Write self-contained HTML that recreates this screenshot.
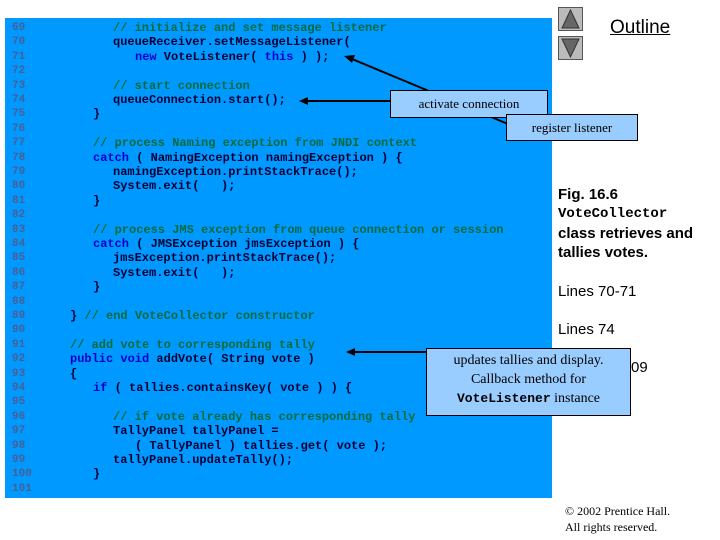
<!DOCTYPE html>
<html><head><meta charset="utf-8"><style>
body{margin:0;width:720px;height:540px;background:#fff;position:relative;overflow:hidden;font-family:"Liberation Sans",sans-serif}
.panel{position:absolute;left:5px;top:18px;width:547px;height:480px;background:#0099ff}
.l{position:absolute;font:bold 12px/14px "Liberation Mono",monospace;color:#000033;white-space:pre}
.n{position:absolute;left:12px;font:bold 11px/14px "Liberation Mono",monospace;color:#4a5f94}
.c{color:#006b3c}.k{color:#0000cc}
.box{position:absolute;background:#99ccff;border:1px solid #000;font:13px "Liberation Serif",serif;color:#000;text-align:center}
.r{position:absolute;left:558px;font-size:15px;color:#000}
</style></head><body>
<div class="panel"></div>
<div class="n" style="top:21px">69</div><div class="n" style="top:35.4px">70</div><div class="n" style="top:49.8px">71</div><div class="n" style="top:64.2px">72</div><div class="n" style="top:78.6px">73</div><div class="n" style="top:93px">74</div><div class="n" style="top:107.4px">75</div><div class="n" style="top:121.8px">76</div><div class="n" style="top:136.2px">77</div><div class="n" style="top:150.6px">78</div><div class="n" style="top:165px">79</div><div class="n" style="top:179.4px">80</div><div class="n" style="top:193.8px">81</div><div class="n" style="top:208.2px">82</div><div class="n" style="top:222.6px">83</div><div class="n" style="top:237px">84</div><div class="n" style="top:251.4px">85</div><div class="n" style="top:265.8px">86</div><div class="n" style="top:280.2px">87</div><div class="n" style="top:294.6px">88</div><div class="n" style="top:309px">89</div><div class="n" style="top:323.4px">90</div><div class="n" style="top:337.8px">91</div><div class="n" style="top:352.2px">92</div><div class="n" style="top:366.6px">93</div><div class="n" style="top:381px">94</div><div class="n" style="top:395.4px">95</div><div class="n" style="top:409.8px">96</div><div class="n" style="top:424.2px">97</div><div class="n" style="top:438.6px">98</div><div class="n" style="top:453px">99</div><div class="n" style="top:467.4px">100</div><div class="n" style="top:481.8px">101</div>

<div class="l c" style="left:113px;top:21px">// initialize and set message listener</div>
<div class="l" style="left:113px;top:35.4px">queueReceiver.setMessageListener(</div>
<div class="l" style="left:135px;top:49.8px"><span class="k">new</span> VoteListener( <span class="k">this</span> ) );</div>
<div class="l c" style="left:113px;top:78.6px">// start connection</div>
<div class="l" style="left:113px;top:93px">queueConnection.start();</div>
<div class="l" style="left:93px;top:107.4px">}</div>
<div class="l c" style="left:93px;top:136.2px">// process Naming exception from JNDI context</div>
<div class="l" style="left:93px;top:150.6px"><span class="k">catch</span> ( NamingException namingException ) {</div>
<div class="l" style="left:113px;top:165px">namingException.printStackTrace();</div>
<div class="l" style="left:113px;top:179.4px">System.exit(   );</div>
<div class="l" style="left:93px;top:193.8px">}</div>
<div class="l c" style="left:93px;top:222.6px">// process JMS exception from queue connection or session</div>
<div class="l" style="left:93px;top:237px"><span class="k">catch</span> ( JMSException jmsException ) {</div>
<div class="l" style="left:113px;top:251.4px">jmsException.printStackTrace();</div>
<div class="l" style="left:113px;top:265.8px">System.exit(   );</div>
<div class="l" style="left:93px;top:280.2px">}</div>
<div class="l" style="left:70px;top:309px">} <span class="c">// end VoteCollector constructor</span></div>
<div class="l c" style="left:70px;top:337.8px">// add vote to corresponding tally</div>
<div class="l" style="left:70px;top:352.2px"><span class="k">public void</span> addVote( String vote )</div>
<div class="l" style="left:70px;top:366.6px">{</div>
<div class="l" style="left:93px;top:381px"><span class="k">if</span> ( tallies.containsKey( vote ) ) {</div>
<div class="l c" style="left:113px;top:409.8px">// if vote already has corresponding tally</div>
<div class="l" style="left:113px;top:424.2px">TallyPanel tallyPanel =</div>
<div class="l" style="left:135px;top:438.6px">( TallyPanel ) tallies.get( vote );</div>
<div class="l" style="left:113px;top:453px">tallyPanel.updateTally();</div>
<div class="l" style="left:93px;top:467.4px">}</div>

<svg style="position:absolute;left:0;top:0" width="720" height="540">
<line x1="508" y1="124" x2="352" y2="59" stroke="#000" stroke-width="2"/>
<path d="M344,56 L355,55 L352,63z" fill="#000"/>
<line x1="392" y1="101" x2="306" y2="101" stroke="#000" stroke-width="2"/>
<path d="M299,101 L308,97 L308,105z" fill="#000"/>
<line x1="428" y1="352" x2="354" y2="352" stroke="#000" stroke-width="2"/>
<path d="M346,352 L355,348 L355,356z" fill="#000"/>
<rect x="558.5" y="7.5" width="24" height="23" fill="#bbb" stroke="#555"/>
<path d="M570.5,10 L562,28 L579,28z" fill="#666" stroke="#333"/>
<rect x="558.5" y="36.5" width="24" height="23" fill="#bbb" stroke="#555"/>
<path d="M570.5,57 L562,39 L579,39z" fill="#666" stroke="#333"/>
</svg>
<div class="box" style="left:390px;top:90px;width:156px;height:26px;line-height:26px">activate connection</div>
<div class="box" style="left:506px;top:114px;width:130px;height:25px;line-height:25px">register listener</div>
<div class="box" style="left:426px;top:348px;width:203px;height:64px;line-height:19px;padding-top:2px;font-size:14px">updates tallies and display.<br>Callback method for<br><b style="font-family:'Liberation Mono',monospace;font-size:13px">VoteListener</b> instance</div>

<div style="position:absolute;left:610px;top:17px;font-size:19px;text-decoration:underline">Outline</div>
<div class="r" style="top:186px;font-weight:bold">Fig. 16.6</div>
<div class="r" style="top:206px;font:bold 14px 'Liberation Mono',monospace">VoteCollector</div>
<div class="r" style="top:225px;font-weight:bold">class retrieves and</div>
<div class="r" style="top:244px;font-weight:bold">tallies votes.</div>
<div class="r" style="top:283px">Lines 70-71</div>
<div class="r" style="top:321px">Lines 74</div>
<div class="r" style="top:359px;left:631px">09</div>
<div style="position:absolute;left:565px;top:503px;font:12px/16px 'Liberation Serif',serif">© 2002 Prentice Hall.<br>All rights reserved.</div>
</body></html>
